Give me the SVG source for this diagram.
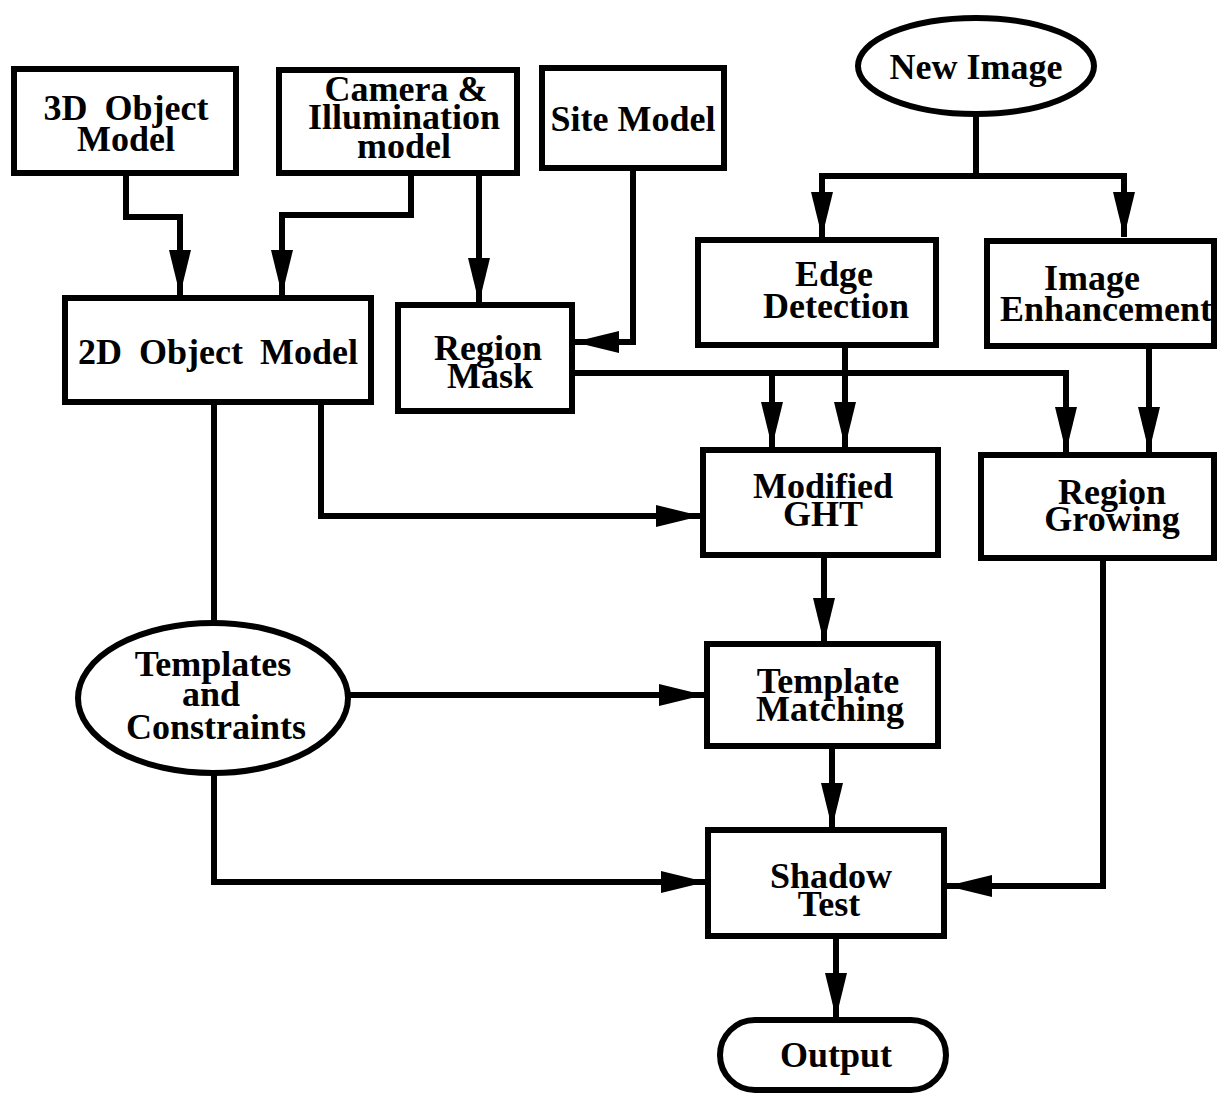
<svg xmlns="http://www.w3.org/2000/svg" width="1217" height="1096" viewBox="0 0 1217 1096">
<style>
.box{fill:#fff;stroke:#000;stroke-width:6}
.ln{fill:none;stroke:#000;stroke-width:6;stroke-linejoin:miter}
.t{font-family:"Liberation Serif","Times New Roman",serif;font-weight:bold;font-size:36px;text-anchor:middle;fill:#000}
</style>
<defs>
<marker id="ah" viewBox="0 0 45 22" markerWidth="45" markerHeight="22" refX="45" refY="11" orient="auto" markerUnits="userSpaceOnUse">
<path d="M0,0 L45,11 L0,22 Z" fill="#000"/>
</marker>
</defs>
<rect width="1217" height="1096" fill="#fff"/>
<g id="connectors">
<path class="ln" d="M126,174 V217 H180 V295" marker-end="url(#ah)"/>
<path class="ln" d="M411,172 V215 H282 V295" marker-end="url(#ah)"/>
<path class="ln" d="M479,172 V303" marker-end="url(#ah)"/>
<path class="ln" d="M633,168 V342 H574" marker-end="url(#ah)"/>
<path class="ln" d="M976,114 V176"/>
<path class="ln" d="M822,176 H1124"/>
<path class="ln" d="M822,173 V237" marker-end="url(#ah)"/>
<path class="ln" d="M1124,173 V237" marker-end="url(#ah)"/>
<path class="ln" d="M572,373 H1066"/>
<path class="ln" d="M772,370 V447" marker-end="url(#ah)"/>
<path class="ln" d="M1066,370 V452" marker-end="url(#ah)"/>
<path class="ln" d="M845,345 V447" marker-end="url(#ah)"/>
<path class="ln" d="M1149,346 V452" marker-end="url(#ah)"/>
<path class="ln" d="M321,402 V516 H701" marker-end="url(#ah)"/>
<path class="ln" d="M214,402 V623"/>
<path class="ln" d="M346,695 H704" marker-end="url(#ah)"/>
<path class="ln" d="M824,555 V643" marker-end="url(#ah)"/>
<path class="ln" d="M832,747 V828" marker-end="url(#ah)"/>
<path class="ln" d="M214,772 V882 H706" marker-end="url(#ah)"/>
<path class="ln" d="M1103,558 V886 H947" marker-end="url(#ah)"/>
<path class="ln" d="M836,936 V1018" marker-end="url(#ah)"/>
</g>
<g id="obj3d">
<rect class="box" x="14" y="69" width="222" height="104"/>
<text class="t" x="126" y="120" word-spacing="8">3D Object</text>
<text class="t" x="126" y="151">Model</text>
</g>
<g id="camera">
<rect class="box" x="279" y="70" width="238" height="103"/>
<text class="t" x="406" y="101">Camera &amp;</text>
<text class="t" x="404" y="129">Illumination</text>
<text class="t" x="404" y="158">model</text>
</g>
<g id="site">
<rect class="box" x="542" y="68" width="182" height="100"/>
<text class="t" x="633" y="131">Site Model</text>
</g>
<g id="newimage">
<ellipse class="box" cx="976" cy="66" rx="118" ry="48"/>
<text class="t" x="976" y="79">New Image</text>
</g>
<g id="edge">
<rect class="box" x="698" y="240" width="238" height="105"/>
<text class="t" x="834" y="286">Edge</text>
<text class="t" x="836" y="318">Detection</text>
</g>
<g id="enhance">
<rect class="box" x="987" y="241" width="227" height="105"/>
<text class="t" x="1092" y="290">Image</text>
<text class="t" x="1106" y="321">Enhancement</text>
</g>
<g id="obj2d">
<rect class="box" x="65" y="298" width="306" height="104"/>
<text class="t" x="218" y="364" word-spacing="8">2D Object Model</text>
</g>
<g id="regionmask">
<rect class="box" x="398" y="305" width="174" height="106"/>
<text class="t" x="488" y="360">Region</text>
<text class="t" x="490" y="388">Mask</text>
</g>
<g id="ght">
<rect class="box" x="703" y="450" width="235" height="105"/>
<text class="t" x="823" y="498">Modified</text>
<text class="t" x="823" y="526">GHT</text>
</g>
<g id="regiongrow">
<rect class="box" x="981" y="455" width="233" height="103"/>
<text class="t" x="1112" y="504">Region</text>
<text class="t" x="1112" y="531">Growing</text>
</g>
<g id="templates">
<ellipse class="box" cx="213" cy="698" rx="135" ry="75"/>
<text class="t" x="213" y="676">Templates</text>
<text class="t" x="211" y="706">and</text>
<text class="t" x="216" y="739">Constraints</text>
</g>
<g id="tmatch">
<rect class="box" x="707" y="644" width="231" height="102"/>
<text class="t" x="828" y="693">Template</text>
<text class="t" x="830" y="721">Matching</text>
</g>
<g id="shadow">
<rect class="box" x="708" y="830" width="236" height="106"/>
<text class="t" x="831" y="888">Shadow</text>
<text class="t" x="829" y="916">Test</text>
</g>
<g id="output">
<rect class="box" x="720" y="1020" width="226" height="70" rx="35" ry="35"/>
<text class="t" x="836" y="1067">Output</text>
</g>
</svg>
